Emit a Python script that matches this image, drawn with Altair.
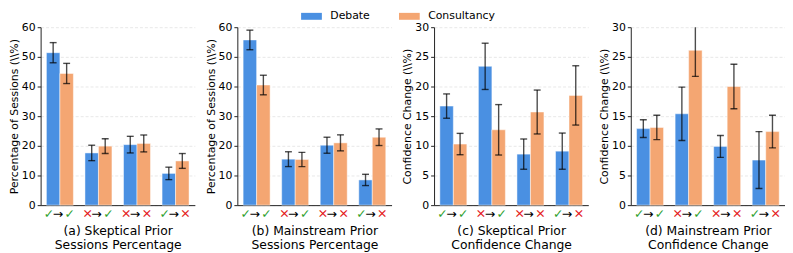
import altair as alt
import pandas as pd

categories = ["✓→✓", "✕→✓", "✕→✕", "✓→✕"]
series = ["Debate", "Consultancy"]
colors = ["#4a90e2", "#f4a672"]
check_color = "#2ca02c"
cross_color = "#e41a1c"

# (a) Skeptical prior, sessions percentage
a_debate = [51.4, 17.6, 20.4, 10.7]
a_debate_err = [3.4, 2.6, 2.8, 2.1]
a_cons = [44.4, 19.9, 20.8, 14.9]
a_cons_err = [3.4, 2.5, 2.85, 2.5]

# (b) Mainstream prior, sessions percentage
b_debate = [55.7, 15.5, 20.2, 8.5]
b_debate_err = [3.3, 2.5, 2.7, 1.9]
b_cons = [40.5, 15.4, 21.0, 22.9]
b_cons_err = [3.3, 2.4, 2.7, 2.8]

# (c) Skeptical prior, confidence change
c_debate = [16.7, 23.4, 8.6, 9.1]
c_debate_err = [2.05, 3.9, 2.55, 3.05]
c_cons = [10.3, 12.7, 15.7, 18.5]
c_cons_err = [1.8, 4.25, 3.7, 5.0]

# (d) Mainstream prior, confidence change
d_debate = [12.9, 15.4, 9.9, 7.6]
d_debate_err = [1.5, 4.5, 1.85, 4.8]
d_cons = [13.1, 26.1, 20.0, 12.4]
d_cons_err = [2.05, 4.4, 3.75, 2.75]

titles = [
    ["(a) Skeptical Prior", "Sessions Percentage"],
    ["(b) Mainstream Prior", "Sessions Percentage"],
    ["(c) Skeptical Prior", "Confidence Change"],
    ["(d) Mainstream Prior", "Confidence Change"],
]
ytitles = ["Percentage of Sessions (\\\\%)", "Percentage of Sessions (\\\\%)",
           "Confidence Change (\\\\%)", "Confidence Change (\\\\%)"]
ymaxes = [60, 60, 30, 30]
ysteps = [10, 10, 5, 5]

W, H = 156, 180
FONT = "DejaVu Sans"


def make_df(deb, deb_err, cons, cons_err):
    rows = []
    for i, c in enumerate(categories):
        for s, v, e in (("Debate", deb[i], deb_err[i]), ("Consultancy", cons[i], cons_err[i])):
            rows.append({"cat": c, "series": s, "value": v, "lo": v - e, "hi": v + e})
    return pd.DataFrame(rows)


label_df = pd.DataFrame({
    "cat": categories,
    "s1": [c[0] for c in categories],
    "arrow": ["→"] * len(categories),
    "s2": [c[2] for c in categories],
})
label_df["c1"] = [check_color if s == "✓" else cross_color for s in label_df["s1"]]
label_df["c2"] = [check_color if s == "✓" else cross_color for s in label_df["s2"]]

legend = alt.Legend(
    orient="none", legendX=267, legendY=-18, direction="horizontal", title=None,
    symbolType="M-1.5,-0.5H1.5V0.5H-1.5Z", symbolSize=196, symbolStrokeWidth=0,
    labelFontSize=11, labelFont=FONT, labelColor="black", labelOffset=12,
    columnPadding=28, symbolOpacity=1,
)


def panel(df, title, ytitle, ymax, ystep, clip):
    xenc = alt.X("cat:N", sort=categories,
                 scale=alt.Scale(paddingInner=0.3, paddingOuter=0.15),
                 axis=alt.Axis(labels=False, ticks=False, title=title, titlePadding=20,
                               titleFontSize=12.5, titleFontWeight="normal", titleFont=FONT,
                               titleColor="black", titleLineHeight=14, grid=False))
    xo = alt.XOffset("series:N", sort=series, scale=alt.Scale(paddingInner=0, paddingOuter=0))
    yax = alt.Axis(values=list(range(0, ymax + 1, ystep)), title=ytitle, titleFontSize=11,
                   titleFont=FONT, titleFontWeight="normal", titleColor="black",
                   titlePadding=2, labelFontSize=11, labelFont=FONT, labelColor="black",
                   tickSize=3.5, labelPadding=2, grid=True, gridColor="#dddddd",
                   gridDash=[3, 2], gridWidth=0.7)
    ysc = alt.Scale(domain=[0, ymax], nice=False)

    def yenc(field):
        return alt.Y(f"{field}:Q", scale=ysc, axis=yax)

    base = alt.Chart(df)
    bars = base.mark_bar(stroke="white", strokeWidth=0.8, strokeOpacity=0.6).encode(
        x=xenc, xOffset=xo, y=yenc("value"),
        color=alt.Color("series:N", sort=series,
                        scale=alt.Scale(domain=series, range=colors), legend=legend),
    )
    rules = base.mark_rule(color="black", opacity=0.7, strokeWidth=1.4, clip=clip).encode(
        x=xenc, xOffset=xo, y=yenc("lo"), y2="hi:Q")
    cap_lo = base.mark_tick(color="black", opacity=0.7, thickness=1.4, size=7, clip=clip).encode(
        x=xenc, xOffset=xo, y=yenc("lo"))
    cap_hi = base.mark_tick(color="black", opacity=0.7, thickness=1.4, size=7, clip=clip).encode(
        x=xenc, xOffset=xo, y=yenc("hi"))

    lb = alt.Chart(label_df)
    t1 = lb.mark_text(fontSize=12.5, font=FONT, dx=-11, baseline="middle").encode(
        x=xenc, y=alt.value(H + 9), text="s1:N", color=alt.Color("c1:N", scale=None))
    t2 = lb.mark_text(fontSize=12.5, font=FONT, dx=-2, baseline="middle", color="black").encode(
        x=xenc, y=alt.value(H + 9), text="arrow:N")
    t3 = lb.mark_text(fontSize=12.5, font=FONT, dx=10, baseline="middle").encode(
        x=xenc, y=alt.value(H + 9), text="s2:N", color=alt.Color("c2:N", scale=None))

    return alt.layer(bars, rules, cap_lo, cap_hi, t1, t2, t3).properties(width=W, height=H)


dfs = [
    make_df(a_debate, a_debate_err, a_cons, a_cons_err),
    make_df(b_debate, b_debate_err, b_cons, b_cons_err),
    make_df(c_debate, c_debate_err, c_cons, c_cons_err),
    make_df(d_debate, d_debate_err, d_cons, d_cons_err),
]

panels = [panel(dfs[i], titles[i], ytitles[i], ymaxes[i], ysteps[i], i == 3) for i in range(4)]

chart = alt.hconcat(*panels, spacing=43, bounds="flush").resolve_scale(
    y="independent", x="independent", color="shared"
).configure(font=FONT).configure_view(stroke=None).configure_axis(
    domainColor="#222222", tickColor="#222222", domainWidth=1
).properties(padding={"left": 0, "top": 0, "right": 0, "bottom": 0})

chart.save("out.html", embed_options={"renderer": "svg", "actions": False})
